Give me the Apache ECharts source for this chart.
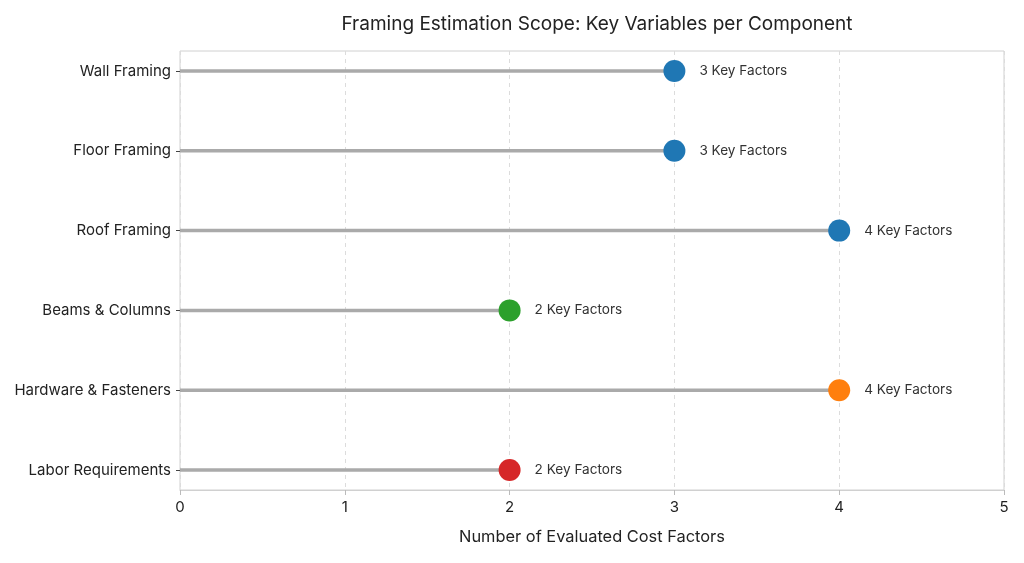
<!DOCTYPE html>
<html><head><meta charset="utf-8">
<script src="https://cdn.jsdelivr.net/npm/echarts@6/dist/echarts.min.js"></script>
<style>html,body{margin:0;padding:0;background:#fff}#c{width:1024px;height:563px}</style>
</head><body><div id="c"></div>
<script>
const categories = ["Wall Framing","Floor Framing","Roof Framing","Beams & Columns","Hardware & Fasteners","Labor Requirements"];
const values = [3,3,4,2,4,2];
const dotColors = ["#1f77b4","#1f77b4","#1f77b4","#2ca02c","#ff7f0e","#d62728"];
const xTicks = [0,1,2,3,4,5];
const FONT = "Inter";
const chart = echarts.init(document.getElementById('c'));
chart.setOption({
  animation:false,
  textStyle:{fontFamily:FONT},
  title:{text:"Framing Estimation Scope: Key Variables per Component",left:592,top:10,textAlign:'center',
    textStyle:{fontFamily:FONT,fontSize:19,fontWeight:'normal',color:'#222'}},
  grid:[
    {left:180,right:20,top:51,bottom:73,show:true,borderColor:'#d0d0d0',borderWidth:1,backgroundColor:'transparent'},
    {left:180,right:20,top:71,bottom:93}
  ],
  xAxis:[
    {gridIndex:0,type:'value',min:xTicks[0],max:xTicks[xTicks.length-1],interval:1,
     name:"Number of Evaluated Cost Factors",nameLocation:'middle',nameGap:39,
     nameTextStyle:{fontFamily:FONT,fontSize:16.4,color:'#222'},
     axisLine:{show:true,lineStyle:{color:'#d0d0d0'}},
     axisTick:{show:true,length:5,lineStyle:{color:'#bbb'}},
     axisLabel:{fontFamily:FONT,fontSize:15,color:'#222',margin:10},
     splitLine:{show:true,lineStyle:{type:[4,4],color:'#dcdcdc'}}},
    {gridIndex:1,type:'value',min:xTicks[0],max:xTicks[xTicks.length-1],show:false,splitLine:{show:false}}
  ],
  yAxis:[
    {gridIndex:0,type:'value',show:false,min:0,max:1,splitLine:{show:false}},
    {gridIndex:1,type:'category',data:categories,inverse:true,boundaryGap:false,
     axisLine:{show:false},
     axisTick:{show:true,length:4,alignWithLabel:true,lineStyle:{color:'#444'}},
     axisLabel:{fontFamily:FONT,fontSize:15,color:'#222',margin:9},
     splitLine:{show:false}}
  ],
  series:[
    {type:'bar',xAxisIndex:1,yAxisIndex:1,data:values,barWidth:3.5,
     itemStyle:{color:'#aaaaaa'},silent:true},
    {type:'scatter',xAxisIndex:1,yAxisIndex:1,symbolSize:22,
     data:values.map((v,i)=>({value:[v,categories[i]],itemStyle:{color:dotColors[i],opacity:1}})),
     label:{show:true,position:'right',distance:14,fontFamily:FONT,fontSize:13.6,color:'#333',
       formatter:p=>p.value[0]+" Key Factors"},
     z:5}
  ]
});
</script></body></html>
